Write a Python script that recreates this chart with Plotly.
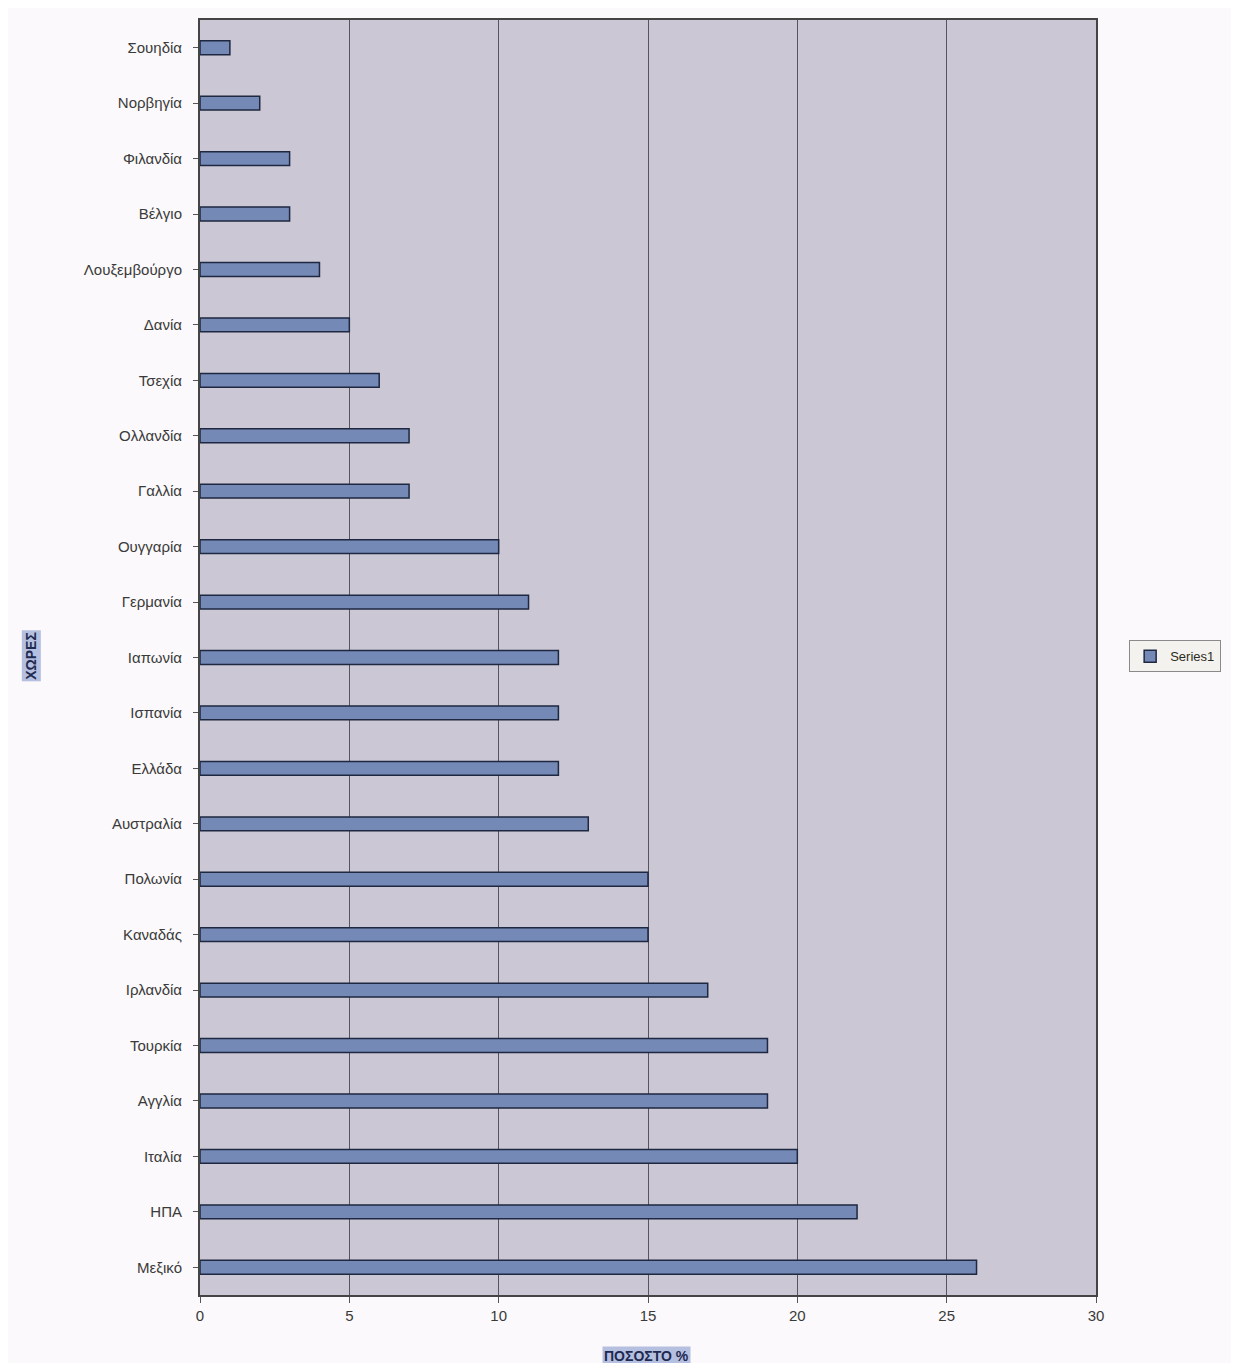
import plotly.graph_objects as go

countries = ["Σουηδία", "Νορβηγία", "Φιλανδία", "Βέλγιο", "Λουξεμβούργο", "Δανία",
             "Τσεχία", "Ολλανδία", "Γαλλία", "Ουγγαρία", "Γερμανία", "Ιαπωνία",
             "Ισπανία", "Ελλάδα", "Αυστραλία", "Πολωνία", "Καναδάς", "Ιρλανδία",
             "Τουρκία", "Αγγλία", "Ιταλία", "ΗΠΑ", "Μεξικό"]
values = [1, 2, 3, 3, 4, 5, 6, 7, 7, 10, 11, 12, 12, 12, 13, 15, 15, 17, 19, 19, 20, 22, 26]
x_ticks = [0, 5, 10, 15, 20, 25, 30]
series_name = "Series1"
x_title = "ΠΟΣΟΣΤΟ %"
y_title = "ΧΩΡΕΣ"

fig = go.Figure()
fig.add_trace(go.Bar(
    y=countries, x=values, orientation="h", name=series_name,
    marker=dict(color="#7489b5", line=dict(color="#1e2840", width=1.5)),
    showlegend=True,
))

fig.update_layout(
    width=1223, height=1355,
    margin=dict(l=192, r=131, t=10, b=68),
    paper_bgcolor="#fbf9fb",
    plot_bgcolor="#cbc7d4",
    font=dict(family="Liberation Sans, Arial, sans-serif", size=14, color="#3a3a3a"),
    bargap=0.75,
    showlegend=True,
    legend=dict(x=1.037, y=0.501, xanchor="left", yanchor="middle",
                bgcolor="#f4f2ee", bordercolor="#8a8a8a", borderwidth=1,
                font=dict(size=13, color="#2c2c20")),
    annotations=[
        dict(text="<b>" + x_title + "</b>", xref="paper", yref="paper",
             x=0.498, y=-0.048, showarrow=False, xanchor="center", yanchor="middle",
             bgcolor="#b5bfe0", font=dict(size=14, color="#1e2a50")),
        dict(text="<b>" + y_title + "</b>", xref="paper", yref="paper",
             x=-0.188, y=0.501, showarrow=False, textangle=-90,
             xanchor="center", yanchor="middle",
             bgcolor="#b5bfe0", font=dict(size=14, color="#1e2a50")),
    ],
)
fig.update_xaxes(
    range=[0, 30], tickvals=x_ticks, showgrid=True, gridcolor="#555560", gridwidth=1,
    zeroline=False, showline=True, linecolor="#444", linewidth=2, mirror=True,
    ticks="outside", ticklen=6, tickcolor="#555", tickfont=dict(size=15),
)
fig.update_yaxes(
    categoryorder="array", categoryarray=countries, autorange="reversed",
    showgrid=False, showline=True, linecolor="#444", linewidth=2, mirror=True,
    ticks="outside", ticklen=5, tickcolor="#555", ticklabelstandoff=8,
    tickfont=dict(size=15),
)

fig.write_html("out.html")
